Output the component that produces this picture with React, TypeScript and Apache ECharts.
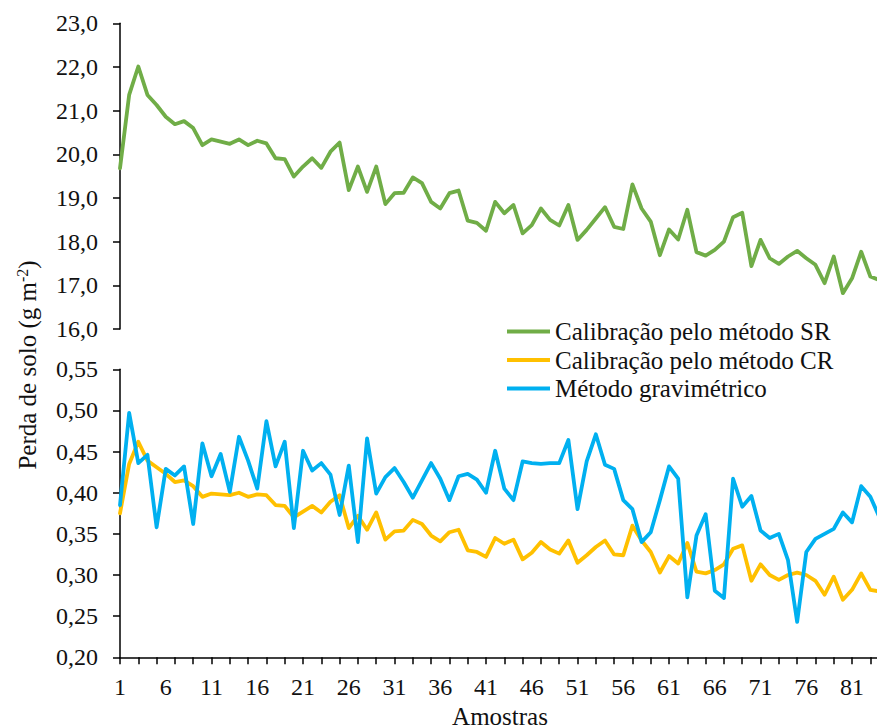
import React, { useEffect, useRef } from "react";
import * as echarts from "echarts";

const samples: string[] = Array.from({ length: 84 }, (_, i) => String(i + 1));

const seriesNames = [
  "Calibração pelo método SR",
  "Calibração pelo método CR",
  "Método gravimétrico",
];

const srValues = [
  19.68, 21.36, 22.01, 21.36, 21.13, 20.86, 20.69, 20.76, 20.6, 20.21,
  20.34, 20.29, 20.24, 20.34, 20.21, 20.31, 20.25, 19.91, 19.89, 19.49,
  19.72, 19.91, 19.69, 20.06, 20.27, 19.18, 19.72, 19.14, 19.72, 18.86,
  19.11, 19.12, 19.47, 19.34, 18.91, 18.76, 19.11, 19.17, 18.48, 18.43,
  18.25, 18.91, 18.65, 18.84, 18.19, 18.38, 18.76, 18.5, 18.37, 18.84,
  18.04, 18.27, 18.53, 18.79, 18.34, 18.29, 19.31, 18.76, 18.46, 17.69,
  18.28, 18.05, 18.73, 17.76, 17.68, 17.81, 18.0, 18.56, 18.66, 17.44,
  18.04, 17.62, 17.49, 17.66, 17.79, 17.62, 17.47, 17.05, 17.66, 16.82,
  17.16, 17.77, 17.2, 17.12,
];

const crValues = [
  0.375, 0.435, 0.462, 0.439, 0.431, 0.423, 0.413, 0.415, 0.408, 0.395,
  0.399, 0.398, 0.397, 0.4, 0.395, 0.398, 0.397, 0.385, 0.384, 0.37,
  0.377, 0.384, 0.376, 0.389, 0.397, 0.357, 0.372, 0.355, 0.376, 0.343,
  0.353, 0.354, 0.367, 0.362, 0.348, 0.341, 0.352, 0.355, 0.33, 0.328,
  0.322, 0.345, 0.338, 0.343, 0.319, 0.327, 0.34, 0.331, 0.326, 0.342,
  0.315, 0.324, 0.334, 0.342, 0.325, 0.324, 0.36, 0.342, 0.328, 0.303,
  0.323, 0.314, 0.339, 0.304, 0.302, 0.306, 0.313, 0.332, 0.336, 0.293,
  0.313, 0.3, 0.294, 0.3, 0.303, 0.3, 0.293, 0.276, 0.298, 0.27,
  0.282, 0.302, 0.282, 0.28,
];

const gravValues = [
  0.385, 0.497, 0.436, 0.446, 0.358, 0.429, 0.421, 0.432, 0.362, 0.46,
  0.42, 0.447, 0.401, 0.468, 0.439, 0.405, 0.487, 0.432, 0.462, 0.357,
  0.451, 0.427, 0.436, 0.422, 0.373, 0.433, 0.34, 0.466, 0.399, 0.419,
  0.43, 0.413, 0.394, 0.415, 0.436, 0.417, 0.391, 0.42, 0.423, 0.416,
  0.4, 0.451, 0.405, 0.391, 0.438, 0.436, 0.435, 0.436, 0.436, 0.464,
  0.38, 0.438, 0.471, 0.434, 0.429, 0.391, 0.38, 0.34, 0.352, 0.391,
  0.432, 0.417, 0.273, 0.348, 0.374, 0.281, 0.272, 0.417, 0.383, 0.396,
  0.354, 0.345, 0.35, 0.318, 0.243, 0.328, 0.344, 0.35, 0.356, 0.376,
  0.364, 0.408, 0.395, 0.37,
];

const colors = ["#70AD47", "#FFC000", "#00B0F0"];
const FONT = "Liberation Serif";
const TXT = "#111";

export default function App() {
  const ref = useRef<HTMLDivElement>(null);
  useEffect(() => {
    document.body.style.margin = "0";
    document.body.style.overflow = "hidden";
    const chart = echarts.init(ref.current!, null, { renderer: "svg" });
    const axisLine = { show: true, lineStyle: { color: "#000", width: 1.5 } };
    const axisTick = { show: true, length: 7, lineStyle: { color: "#000", width: 1.5 } };
    const lineSeries = (i: number, data: number[], ax: number) => ({
      name: seriesNames[i],
      type: "line",
      xAxisIndex: ax,
      yAxisIndex: ax,
      data,
      showSymbol: false,
      symbol: "none",
      lineStyle: { color: colors[i], width: 3.8, join: "round", cap: "round" },
      itemStyle: { color: colors[i] },
    });
    chart.setOption({
      animation: false,
      backgroundColor: "#fff",
      grid: [
        { left: 120, top: 23.3, width: 759.5, height: 305.7 },
        { left: 120, top: 369.3, width: 759.5, height: 288 },
      ],
      xAxis: [
        {
          gridIndex: 0,
          type: "category",
          data: samples,
          boundaryGap: false,
          show: false,
        },
        {
          gridIndex: 1,
          type: "category",
          data: samples,
          boundaryGap: false,
          axisLine,
          axisTick: { ...axisTick, interval: 1 },
          axisLabel: {
            interval: 4,
            margin: 18,
            fontFamily: FONT,
            fontSize: 24,
            color: TXT,
          },
          splitLine: { show: false },
        },
      ],
      yAxis: [
        {
          gridIndex: 0,
          type: "value",
          min: 16,
          max: 23,
          interval: 1,
          axisLine,
          axisTick,
          splitLine: { show: false },
          axisLabel: {
            margin: 22,
            fontFamily: FONT,
            fontSize: 24,
            color: TXT,
            formatter: (v: number) => v.toFixed(1).replace(".", ","),
          },
        },
        {
          gridIndex: 1,
          type: "value",
          min: 0.2,
          max: 0.55,
          interval: 0.05,
          axisLine,
          axisTick,
          splitLine: { show: false },
          axisLabel: {
            margin: 22,
            fontFamily: FONT,
            fontSize: 24,
            color: TXT,
            formatter: (v: number) => v.toFixed(2).replace(".", ","),
          },
        },
      ],
      legend: {
        orient: "vertical",
        left: 507,
        top: 319,
        icon: "rect",
        itemWidth: 43,
        itemHeight: 4,
        itemGap: 3.5,
        padding: 0,
        data: seriesNames,
        textStyle: { fontFamily: FONT, fontSize: 25, color: TXT },
      },
      graphic: [
        {
          type: "text",
          x: 27,
          y: 365,
          rotation: Math.PI / 2,
          style: {
            text: "Perda de solo (g m{sup|-2})",
            fontFamily: FONT,
            fontSize: 25,
            fill: TXT,
            align: "center",
            verticalAlign: "middle",
            rich: {
              sup: { fontFamily: FONT, fontSize: 16, fill: TXT, verticalAlign: "top" },
            },
          },
        },
        {
          type: "text",
          x: 500,
          y: 716,
          style: {
            text: "Amostras",
            fontFamily: FONT,
            fontSize: 25,
            fill: TXT,
            align: "center",
            verticalAlign: "middle",
          },
        },
      ],
      series: [
        lineSeries(0, srValues, 0),
        lineSeries(1, crValues, 1),
        lineSeries(2, gravValues, 1),
      ],
    });
    return () => chart.dispose();
  }, []);
  return <div ref={ref} style={{ width: 890, height: 728 }} />;
}
